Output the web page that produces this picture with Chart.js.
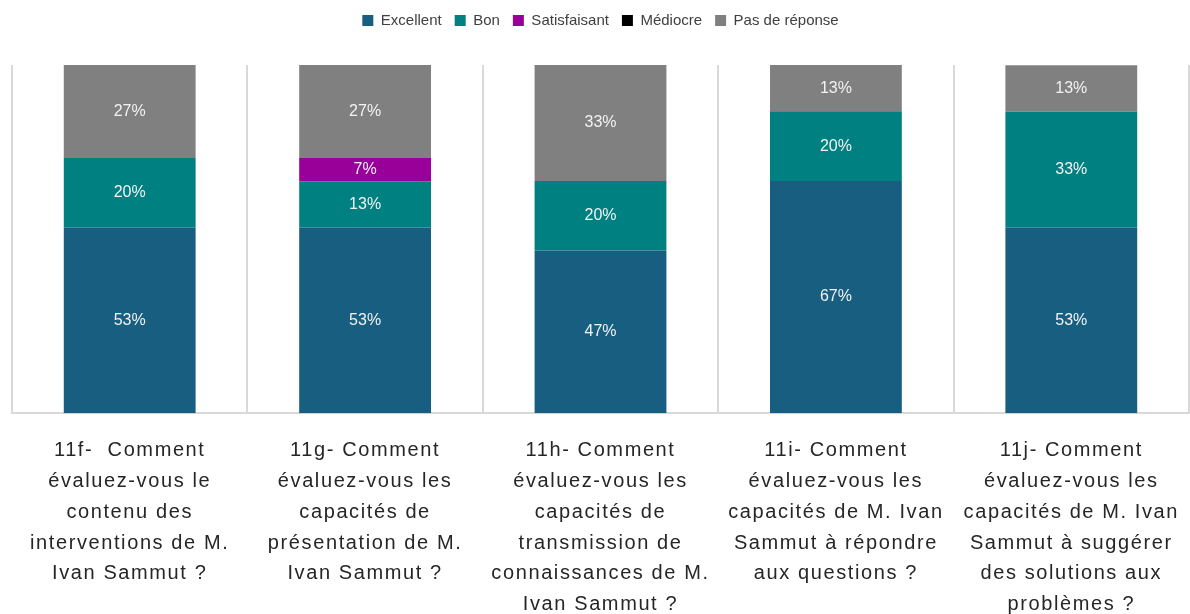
<!DOCTYPE html>
<html lang="fr">
<head>
<meta charset="utf-8">
<script src="https://cdn.jsdelivr.net/npm/chart.js@4.4.1/dist/chart.umd.min.js"></script>
<style>
  html, body { margin: 0; padding: 0; background: #ffffff; }
  #wrap { width: 1190px; height: 614px; }
</style>
</head>
<body>
<div id="wrap"><canvas id="evalChart" width="1190" height="614"></canvas></div>
<script>
// Questions (une ligne par élément du tableau)
const questions = [
    ['11f-  Comment', 'évaluez-vous le', 'contenu des', 'interventions de M.', 'Ivan Sammut ?'],
    ['11g- Comment', 'évaluez-vous les', 'capacités de', 'présentation de M.', 'Ivan Sammut ?'],
    ['11h- Comment', 'évaluez-vous les', 'capacités de', 'transmission de', 'connaissances de M.', 'Ivan Sammut ?'],
    ['11i- Comment', 'évaluez-vous les', 'capacités de M. Ivan', 'Sammut à répondre', 'aux questions ?'],
    ['11j- Comment', 'évaluez-vous les', 'capacités de M. Ivan', 'Sammut à suggérer', 'des solutions aux', 'problèmes ?']
];

// Pourcentages par réponse
const excellent     = [53.3, 53.3, 46.7, 66.7, 53.3];
const bon           = [20.0, 13.3, 20.0, 20.0, 33.3];
const satisfaisant  = [0, 6.7, 0, 0, 0];
const mediocre      = [0, 0, 0, 0, 0];
const pasDeReponse  = [26.7, 26.7, 33.3, 13.3, 13.3];

const narrow = '"Liberation Sans Narrow", "Arial Narrow", "Liberation Sans", sans-serif';

// Étiquettes de pourcentage au centre de chaque segment
const segmentLabels = {
    id: 'segmentLabels',
    afterDatasetsDraw(chart) {
        const ctx = chart.ctx;
        ctx.save();
        ctx.font = '16px ' + narrow;
        ctx.fillStyle = '#f2f2f2';
        ctx.textAlign = 'center';
        ctx.textBaseline = 'middle';
        chart.data.datasets.forEach((ds, i) => {
            const meta = chart.getDatasetMeta(i);
            if (meta.hidden) return;
            meta.data.forEach((bar, j) => {
                const v = ds.data[j];
                if (!v) return;
                const p = bar.getCenterPoint();
                ctx.fillText(Math.round(v) + '%', p.x, p.y);
            });
        });
        ctx.restore();
    }
};

// Espacement des lettres pour les libellés de l'axe X
const spacedTicks = {
    id: 'spacedTicks',
    afterLayout(chart) {
        const scale = chart.scales.x;
        if (scale._spaced) return;
        const orig = scale.drawLabels.bind(scale);
        scale.drawLabels = function (area) {
            chart.ctx.save();
            chart.ctx.letterSpacing = '1.6px';
            orig(area);
            chart.ctx.restore();
        };
        scale._spaced = true;
    }
};

// Espace sous la légende
const legendGap = {
    id: 'legendGap',
    beforeInit(chart) {
        const fit = chart.legend.fit;
        chart.legend.fit = function () {
            fit.bind(chart.legend)();
            this.height += 27;
        };
    }
};

const ctx = document.getElementById('evalChart').getContext('2d');
new Chart(ctx, {
    type: 'bar',
    data: {
        labels: questions,
        datasets: [
            { label: 'Excellent', data: excellent, backgroundColor: '#175e80' },
            { label: 'Bon', data: bon, backgroundColor: '#008080' },
            { label: 'Satisfaisant', data: satisfaisant, backgroundColor: '#990099' },
            { label: 'Médiocre', data: mediocre, backgroundColor: '#000000' },
            { label: 'Pas de réponse', data: pasDeReponse, backgroundColor: '#808080' }
        ]
    },
    options: {
        responsive: false,
        animation: false,
        layout: { padding: { left: 12, right: 1, top: 0, bottom: 0 } },
        datasets: {
            bar: { categoryPercentage: 1, barPercentage: 0.56, borderWidth: 0 }
        },
        scales: {
            x: {
                stacked: true,
                offset: true,
                grid: { offset: true, color: '#d9d9d9', lineWidth: 2, drawTicks: false },
                border: { color: '#d9d9d9', width: 2 },
                ticks: {
                    color: '#262626',
                    maxRotation: 0,
                    autoSkip: false,
                    padding: 22,
                    font: { family: narrow, size: 20, lineHeight: 1.54 }
                },
                afterFit(scale) {
                    scale.height -= 28;
                }
            },
            y: {
                stacked: true,
                display: false,
                min: 0,
                max: 100
            }
        },
        plugins: {
            legend: {
                position: 'top',
                labels: {
                    boxWidth: 11,
                    boxHeight: 11,
                    padding: 13,
                    color: '#404040',
                    font: { family: narrow, size: 15 }
                }
            },
            tooltip: { enabled: false }
        }
    },
    plugins: [segmentLabels, spacedTicks, legendGap]
});
</script>
</body>
</html>
